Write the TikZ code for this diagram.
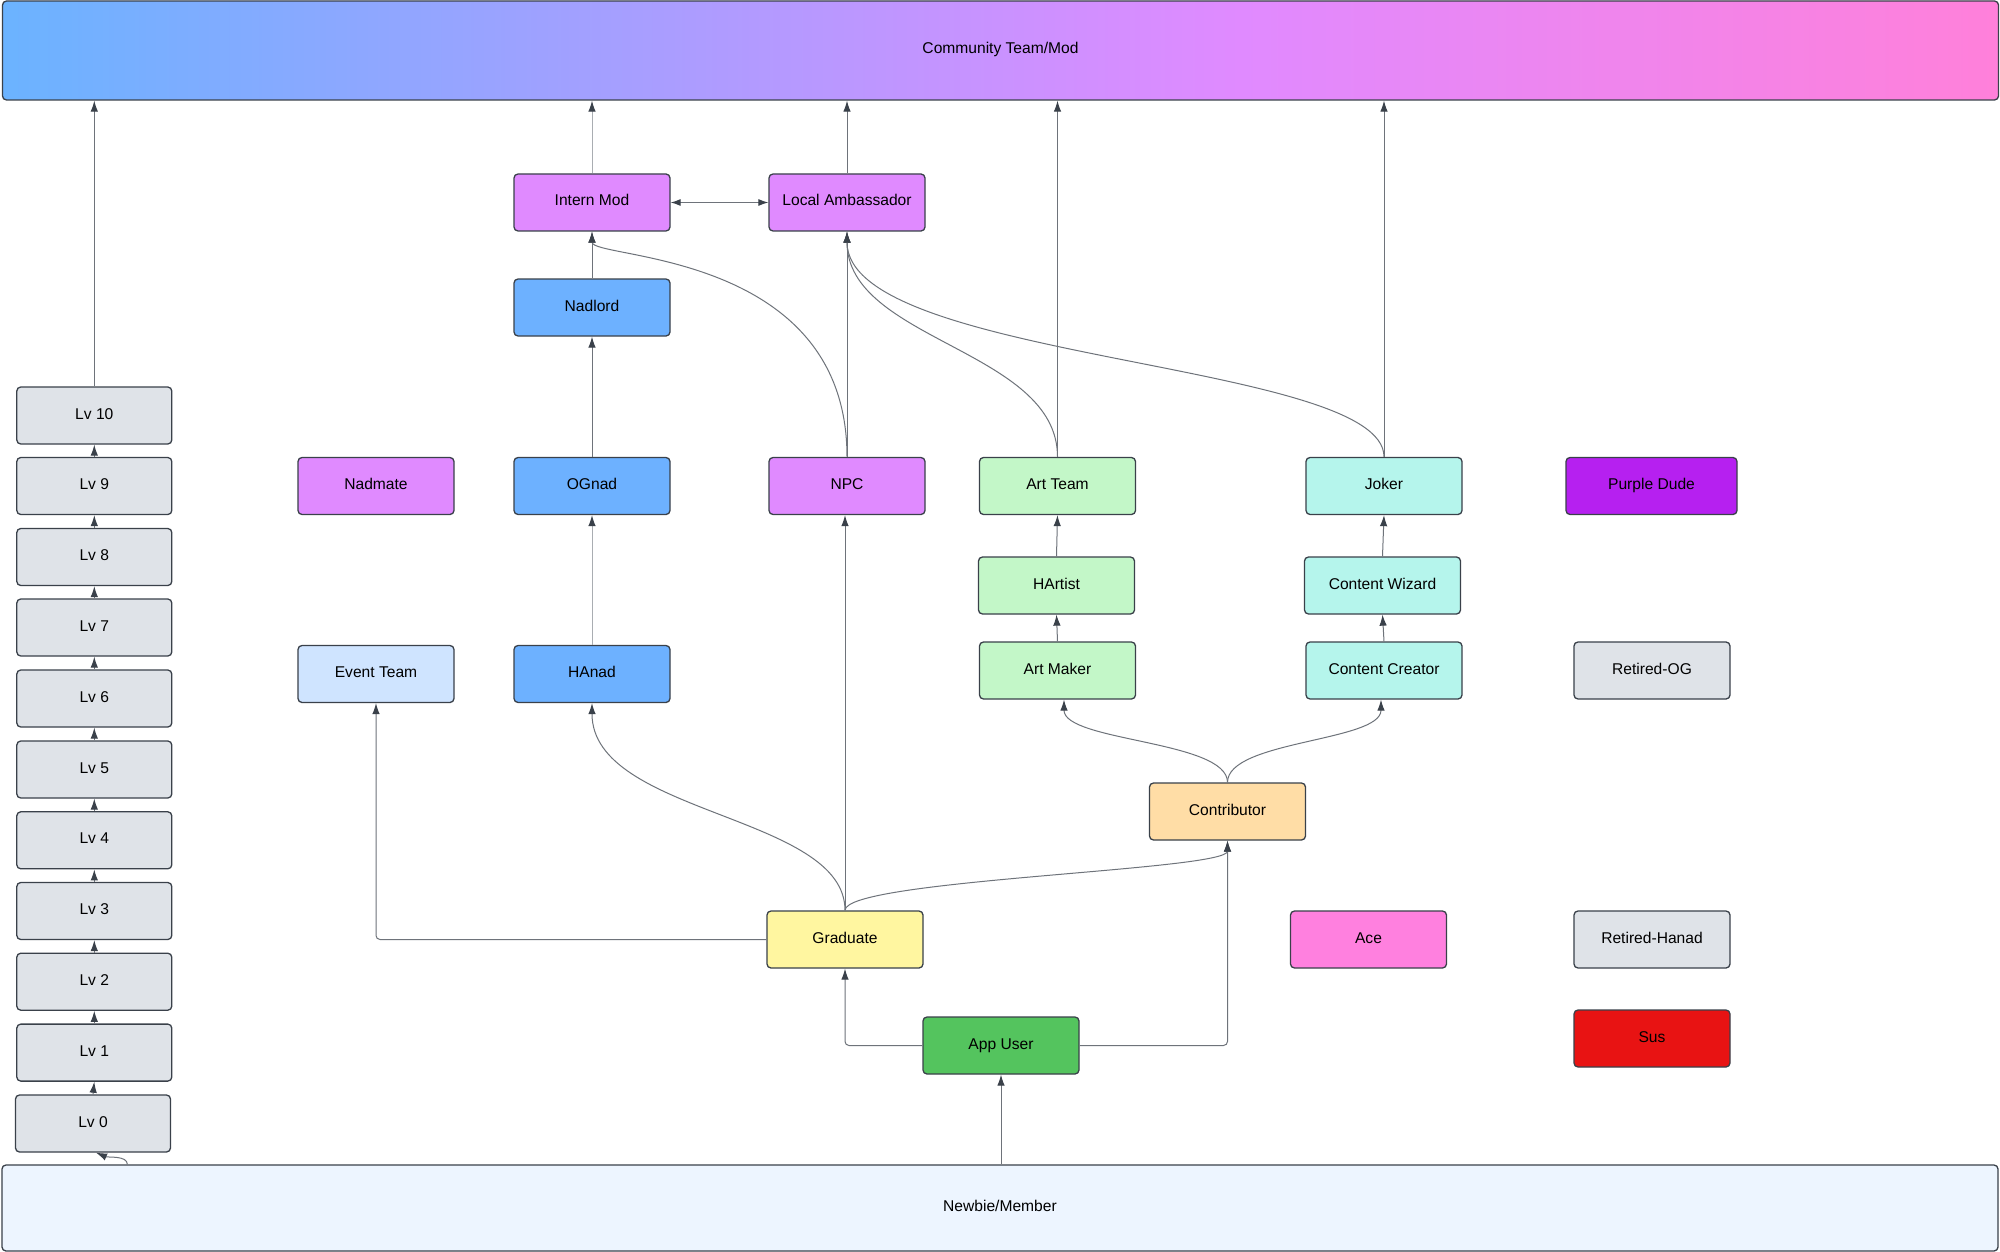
\documentclass[tikz,border=0pt]{standalone}
\usepackage{fontspec}
\setmainfont{Liberation Sans}
\usetikzlibrary{arrows.meta,calc}
\definecolor{bordc}{HTML}{3A414A}
\definecolor{linec}{HTML}{6E737A}
\definecolor{lightline}{HTML}{A9ADB2}
\definecolor{tipc}{HTML}{3A414A}
\definecolor{grayc}{HTML}{DFE3E8}
\definecolor{purpc}{HTML}{E08AFF}
\definecolor{bluc}{HTML}{6DB1FF}
\definecolor{lbluc}{HTML}{CFE4FF}
\definecolor{grnc}{HTML}{C3F7C8}
\definecolor{tealc}{HTML}{B5F5EC}
\definecolor{vioc}{HTML}{B620F0}
\definecolor{orngc}{HTML}{FFDDA6}
\definecolor{yelc}{HTML}{FFF6A0}
\definecolor{pinkc}{HTML}{FF80DF}
\definecolor{appc}{HTML}{54C45E}
\definecolor{susc}{HTML}{E81313}
\definecolor{newbc}{HTML}{EDF5FF}
\definecolor{gA}{HTML}{6BB3FF}
\definecolor{gB}{HTML}{E08AFF}
\definecolor{gC}{HTML}{FF80DA}
\pgfdeclarehorizontalshading{topgrad}{100bp}{color(0bp)=(gA); color(25bp)=(gA); color(56bp)=(gB); color(75bp)=(gC); color(100bp)=(gC)}
\tikzset{
  box/.style={draw=bordc, line width=1.3pt, rounded corners=4pt, minimum width=156pt,
    minimum height=57pt, inner sep=0pt, text height=11pt, text depth=4pt,
    font=\fontsize{15.6}{18}\selectfont, text=black},
  arr/.style={draw=linec, line width=1pt, -{Latex[length=11pt,width=7.5pt,color=tipc]}},
  larr/.style={arr, draw=lightline},
  darr/.style={draw=linec, line width=1pt, {Latex[length=10pt,width=7pt,color=tipc]}-{Latex[length=10pt,width=7pt,color=tipc]}},
}
\begin{document}
\begin{tikzpicture}[x=1pt,y=-1pt]
\useasboundingbox (0,0) rectangle (2000,1252);
\fill[white] (0,0) rectangle (2000,1252);
% bars
\node[box, shade, shading=topgrad, minimum width=1996pt, minimum height=99pt] (top) at (1000.5,50.5) {Community Team/Mod};
\node[box, fill=newbc, minimum width=1996pt, minimum height=86pt] (newbie) at (1000,1208) {Newbie/Member};
% levels
\node[box, fill=grayc, minimum width=155pt] (lv10) at (94.3,415.5) {Lv 10};
\node[box, fill=grayc, minimum width=155pt] (lv9) at (94.3,486) {Lv 9};
\node[box, fill=grayc, minimum width=155pt] (lv8) at (94.3,557) {Lv 8};
\node[box, fill=grayc, minimum width=155pt] (lv7) at (94.3,627.5) {Lv 7};
\node[box, fill=grayc, minimum width=155pt] (lv6) at (94.3,698.5) {Lv 6};
\node[box, fill=grayc, minimum width=155pt] (lv5) at (94.3,769.5) {Lv 5};
\node[box, fill=grayc, minimum width=155pt] (lv4) at (94.3,840.3) {Lv 4};
\node[box, fill=grayc, minimum width=155pt] (lv3) at (94.3,911) {Lv 3};
\node[box, fill=grayc, minimum width=155pt] (lv2) at (94.3,981.7) {Lv 2};
\node[box, fill=grayc, minimum width=155pt] (lv1) at (94.3,1052.6) {Lv 1};
\node[box, fill=grayc, minimum width=155pt] (lv0) at (93,1123.5) {Lv 0};
% roles
\node[box, fill=purpc] (intern) at (592,202.5) {Intern Mod};
\node[box, fill=purpc] (amb) at (847,202.5) {Local Ambassador};
\node[box, fill=bluc] (nadlord) at (592,307.5) {Nadlord};
\node[box, fill=purpc] (nadmate) at (376,486) {Nadmate};
\node[box, fill=bluc] (ognad) at (592,486) {OGnad};
\node[box, fill=purpc] (npc) at (847,486) {NPC};
\node[box, fill=grnc] (arteam) at (1057.5,486) {Art Team};
\node[box, fill=tealc] (joker) at (1384,486) {Joker};
\node[box, fill=vioc, minimum width=171pt] (purple) at (1651.5,486) {Purple Dude};
\node[box, fill=grnc] (hartist) at (1056.5,585.5) {HArtist};
\node[box, fill=tealc] (wizard) at (1382.5,585.5) {Content Wizard};
\node[box, fill=lbluc] (event) at (376,674) {Event Team};
\node[box, fill=bluc] (hanad) at (592,674) {HAnad};
\node[box, fill=grnc] (artmaker) at (1057.5,670.5) {Art Maker};
\node[box, fill=tealc] (creator) at (1384,670.5) {Content Creator};
\node[box, fill=grayc] (retog) at (1652,670.5) {Retired-OG};
\node[box, fill=orngc] (contrib) at (1227.5,811.5) {Contributor};
\node[box, fill=yelc] (grad) at (845,939.5) {Graduate};
\node[box, fill=pinkc] (ace) at (1368.5,939.5) {Ace};
\node[box, fill=grayc] (rethanad) at (1652,939.5) {Retired-Hanad};
\node[box, fill=appc] (appuser) at (1001,1045.5) {App User};
\node[box, fill=susc] (sus) at (1652,1038.5) {Sus};
% level chain
\draw[arr] (lv10.north) -- (lv10.north |- top.south);
\draw[arr] (lv9.north) -- (lv10.south);
\draw[arr] (lv8.north) -- (lv9.south);
\draw[arr] (lv7.north) -- (lv8.south);
\draw[arr] (lv6.north) -- (lv7.south);
\draw[arr] (lv5.north) -- (lv6.south);
\draw[arr] (lv4.north) -- (lv5.south);
\draw[arr] (lv3.north) -- (lv4.south);
\draw[arr] (lv2.north) -- (lv3.south);
\draw[arr] (lv1.north) -- (lv2.south);
\draw[arr] (lv0.north) -- (lv1.south);
\coordinate (nb0) at ($(newbie.north west)+(126,0)$);
\draw[arr] (nb0) .. controls +(0,-9) and +(12,5) .. ($(lv0.south)+(3,0)$);
% to top
\draw[larr] (intern.north) -- (intern.north |- top.south);
\draw[arr] (amb.north) -- (amb.north |- top.south);
\draw[arr] (arteam.north) -- (arteam.north |- top.south);
\draw[arr] (joker.north) -- (joker.north |- top.south);
\draw[darr] (intern.east) -- (amb.west);
\draw[arr] (nadlord.north) -- (intern.south);
\draw[arr] (ognad.north) -- (nadlord.south);
\draw[larr] (hanad.north) -- (ognad.south);
\draw[arr] (npc.north) .. controls +(0,-207) and +(0,28) .. (intern.south);
\draw[arr] (npc.north) -- (amb.south);
\draw[arr] (arteam.north) .. controls +(0,-107) and +(0,109) .. (amb.south);
\draw[arr] (joker.north) .. controls +(0,-96) and +(0,130) .. (amb.south);
\draw[arr] (hartist.north) -- (arteam.south);
\draw[arr] (artmaker.north) -- (hartist.south);
\draw[arr] (wizard.north) -- (joker.south);
\draw[arr] (creator.north) -- (wizard.south);
\draw[arr] (contrib.north) .. controls +(0,-42) and +(0,42) .. ($(artmaker.south)+(6.5,0)$);
\draw[arr] (contrib.north) .. controls +(0,-42) and +(0,42) .. ($(creator.south)+(-3,0)$);
\draw[arr] (grad.north) .. controls +(0,-31) and +(0,30) .. (contrib.south);
\draw[arr] (grad.north) .. controls +(0,-96) and +(0,112) .. (hanad.south);
\draw[arr] (grad.north) -- (grad.north |- npc.south);
\draw[arr, rounded corners=4pt] (grad.west) -| (event.south);
\draw[arr, rounded corners=4pt] (appuser.west) -| (grad.south);
\draw[arr, rounded corners=4pt] (appuser.east) -| (contrib.south);
\draw[arr] (newbie.north -| appuser.south) -- (appuser.south);
\end{tikzpicture}
\end{document}
